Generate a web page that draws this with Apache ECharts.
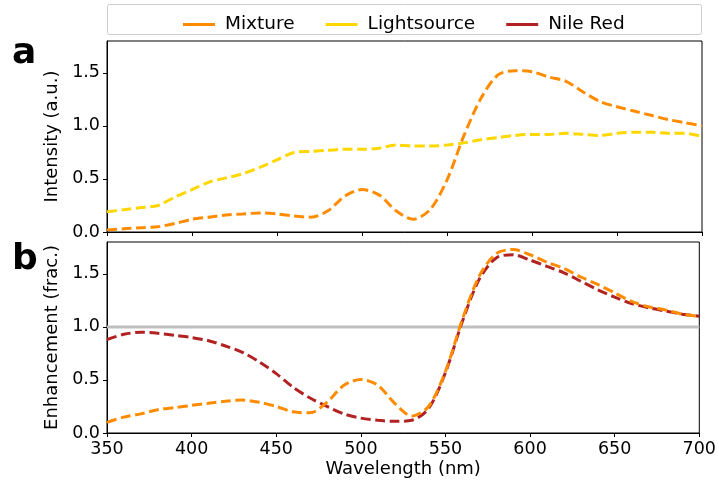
<!DOCTYPE html>
<html>
<head>
<meta charset="utf-8">
<script src="https://cdn.jsdelivr.net/npm/echarts@6/dist/echarts.min.js"></script>
<style>
  html, body { margin: 0; padding: 0; background: #fff; }
  #chart { width: 719px; height: 485px; }
</style>
</head>
<body>
<div id="chart"></div>
<script>
// Wavelength grid (nm)
const wavelength = [350, 360, 370, 380, 390, 400, 410, 420, 430, 440, 450, 460,
  470, 480, 490, 500, 510, 520, 530, 540, 550, 560, 570, 580, 590, 600, 610, 620,
  630, 640, 650, 660, 670, 680, 690, 700];

// Panel a: emission intensity (a.u.)
const mixtureIntensity = [0.02, 0.03, 0.04, 0.05, 0.08, 0.12, 0.14, 0.16, 0.17, 0.18, 0.17, 0.15,
  0.14, 0.20, 0.34, 0.40, 0.35, 0.20, 0.12, 0.21, 0.49, 0.91, 1.26, 1.48, 1.52, 1.51, 1.46, 1.42,
  1.32, 1.23, 1.18, 1.14, 1.10, 1.06, 1.03, 1.00];
const lightsourceIntensity = [0.19, 0.21, 0.23, 0.25, 0.33, 0.40, 0.47, 0.51, 0.55, 0.61, 0.68, 0.75,
  0.76, 0.77, 0.78, 0.78, 0.79, 0.82, 0.81, 0.81, 0.82, 0.84, 0.87, 0.89, 0.91, 0.92, 0.92, 0.93,
  0.92, 0.91, 0.93, 0.94, 0.94, 0.93, 0.93, 0.90];

// Panel b: enhancement (fraction)
const mixtureEnhancement = [0.10, 0.15, 0.18, 0.22, 0.24, 0.26, 0.28, 0.30, 0.31, 0.29, 0.25, 0.20,
  0.19, 0.29, 0.45, 0.505, 0.45, 0.28, 0.16, 0.25, 0.58, 1.07, 1.48, 1.69, 1.73, 1.68, 1.61, 1.55,
  1.47, 1.40, 1.32, 1.24, 1.19, 1.16, 1.12, 1.10];
const nileRedEnhancement = [0.88, 0.93, 0.95, 0.94, 0.92, 0.90, 0.87, 0.82, 0.76, 0.67, 0.56, 0.43,
  0.33, 0.25, 0.18, 0.14, 0.12, 0.11, 0.12, 0.23, 0.57, 1.05, 1.45, 1.65, 1.68, 1.63, 1.57, 1.51,
  1.43, 1.35, 1.28, 1.22, 1.18, 1.15, 1.12, 1.10];

// Reference level for no enhancement
const unityLevel = 1.0;

const seriesNames = ['Mixture', 'Lightsource', 'Nile Red'];
const yTicks = { min: 0, max: 1.8, interval: 0.5 };

const FONT = 'DejaVu Sans';
const pair = (ys) => wavelength.map((w, i) => [w, ys[i]]);

const dashedLine = (name, color, data, idx) => ({
  name, type: 'line', xAxisIndex: idx, yAxisIndex: idx, data,
  smooth: 0.3, symbol: 'none', z: 3,
  lineStyle: { color, width: 3, type: [10, 4.5], cap: 'butt' },
  itemStyle: { color }
});

const yAxisBase = (idx, name) => ({
  type: 'value', gridIndex: idx, min: yTicks.min, max: yTicks.max, interval: yTicks.interval,
  name, nameLocation: 'middle', nameGap: 43, nameRotate: 90,
  nameTextStyle: { fontFamily: FONT, fontSize: 18, color: '#000' },
  axisLine: { show: true, lineStyle: { color: '#000', width: 1 } },
  axisTick: { show: true, inside: false, length: 4, lineStyle: { color: '#000' } },
  axisLabel: { fontFamily: FONT, fontSize: 17.5, color: '#000', margin: 7,
    showMaxLabel: false, formatter: (v) => v.toFixed(1) },
  splitLine: { show: false }
});

const xAxisBase = (idx, showLabels) => ({
  type: 'value', gridIndex: idx, min: 350, max: 700, interval: 50,
  axisLine: { show: true, onZero: false, lineStyle: { color: '#000', width: 1 } },
  axisTick: { show: true, inside: false, length: 4, lineStyle: { color: '#000' } },
  axisLabel: { show: showLabels, fontFamily: FONT, fontSize: 17.5, color: '#000', margin: 7 },
  splitLine: { show: false },
  name: showLabels ? 'Wavelength (nm)' : '', nameLocation: 'middle', nameGap: 27,
  nameTextStyle: { fontFamily: FONT, fontSize: 18, color: '#000' }
});

const chart = echarts.init(document.getElementById('chart'), null, { renderer: 'canvas' });

chart.setOption({
  animation: false,
  backgroundColor: '#fff',
  grid: [
    { left: 107, top: 41, width: 595, height: 191, show: true, borderColor: '#000', borderWidth: 1, containLabel: false },
    { left: 107, top: 242, width: 595, height: 191, show: true, borderColor: '#000', borderWidth: 1, containLabel: false }
  ],
  xAxis: [xAxisBase(0, false), xAxisBase(1, true)],
  yAxis: [yAxisBase(0, 'Intensity (a.u.)'), yAxisBase(1, 'Enhancement (frac.)')],
  legend: {
    data: seriesNames,
    left: 178, top: 10,
    icon: 'rect', itemWidth: 32, itemHeight: 3, itemGap: 31,
    textStyle: { fontFamily: FONT, fontSize: 18.5, color: '#000', padding: [0, 0, 0, 5] }
  },
  graphic: [
    { type: 'rect', z: -1, shape: { x: 107.5, y: 4.5, width: 594, height: 30, r: 2 },
      style: { fill: '#fff', stroke: '#cccccc', lineWidth: 1 } },
    { type: 'text', left: 12, top: 36, style: { text: 'a', fontFamily: FONT, fontWeight: 'bold', fontSize: 36, fill: '#000' } },
    { type: 'text', left: 12, top: 242, style: { text: 'b', fontFamily: FONT, fontWeight: 'bold', fontSize: 36, fill: '#000' } }
  ],
  series: [
    { name: 'unity', type: 'line', xAxisIndex: 1, yAxisIndex: 1, silent: true, z: 1,
      data: [[350, unityLevel], [700, unityLevel]], symbol: 'none',
      lineStyle: { color: '#bfbfbf', width: 3 } },
    dashedLine('Lightsource', '#ffd700', pair(lightsourceIntensity), 0),
    dashedLine('Mixture', '#ff8c00', pair(mixtureIntensity), 0),
    dashedLine('Nile Red', '#b22222', pair(nileRedEnhancement), 1),
    dashedLine('Mixture', '#ff8c00', pair(mixtureEnhancement), 1)
  ]
});
</script>
</body>
</html>
